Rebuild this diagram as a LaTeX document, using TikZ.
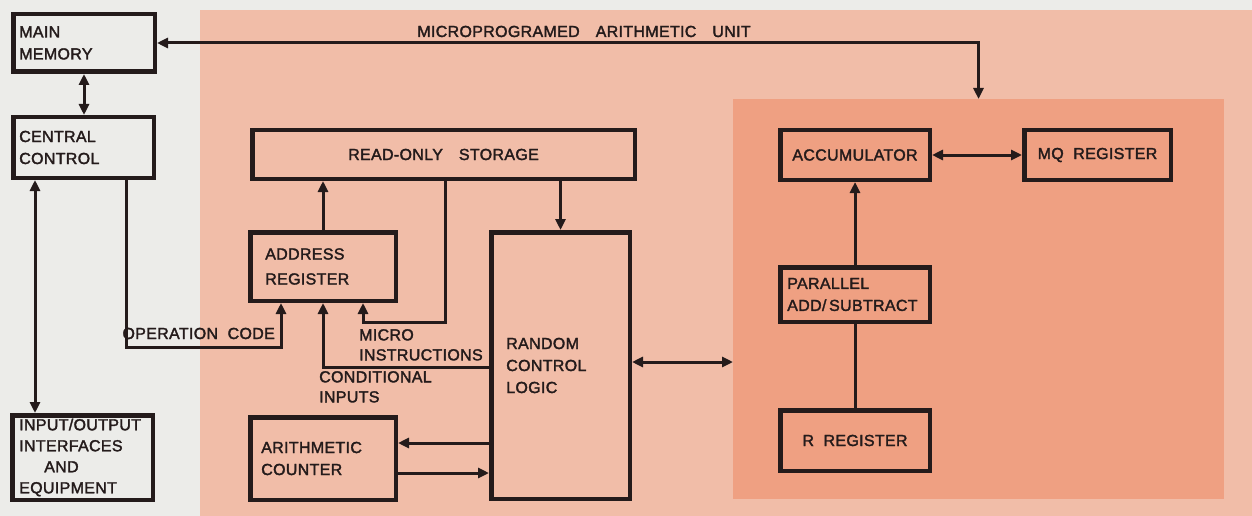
\documentclass[tikz,border=0pt]{standalone}
\usepackage{fontspec}
\setmainfont{Liberation Sans}[LetterSpace=2, FakeBold=2]
\definecolor{paper}{RGB}{236,236,233}
\definecolor{salmon}{RGB}{241,189,168}
\definecolor{deepsalmon}{RGB}{239,160,130}
\definecolor{ink}{RGB}{36,27,27}
\usetikzlibrary{positioning,arrows.meta}

\begin{document}
\begin{tikzpicture}[
    x=1pt, y=-1pt,
    block/.style={rectangle, draw=ink, line width=4.5pt, text=ink, font=\fontsize{16}{22}\selectfont, inner sep=0pt},
    lblock/.style={block, align=left},
    lbl/.style={text=ink, font=\fontsize{16}{20}\selectfont, inner sep=0pt, align=left},
    arrow/.style={-{Triangle[length=11pt,width=10pt]}, line width=3pt, draw=ink},
    biarrow/.style={{Triangle[length=11pt,width=10pt]}-{Triangle[length=11pt,width=10pt]}, line width=3pt, draw=ink},
    link/.style={line width=3pt, draw=ink}
]
\useasboundingbox (0,0) rectangle (1252,516);

% Background
\fill[paper] (0,0) rectangle (1252,516);
\fill[salmon] (200,10) rectangle (1252,516);
\node[fill=deepsalmon, minimum width=491, minimum height=400, inner sep=0pt, outer sep=0pt] (unit) at (978.5,299) {};

% Left column
\node[lblock, minimum width=141.5, minimum height=57.5, inner xsep=6pt, text width=129.5] (mem) at (84,43) {MAIN\\MEMORY};
\node[lblock, minimum width=140.5, minimum height=60.5, inner xsep=6pt, text width=128.5] (cc) at (83.5,147.5) {CENTRAL\\CONTROL};
\node[lblock, minimum width=140.5, minimum height=84.5, inner xsep=7pt, text width=126.5, font=\fontsize{16}{21}\selectfont] (io) at (82.5,457.5) {INPUT/OUTPUT\\INTERFACES\\\hspace*{25pt}AND\\EQUIPMENT};

% Microprogram control
\node[block, minimum width=382.5, minimum height=48.5] (ros) at (443.5,154.5) {READ-ONLY\quad STORAGE};
\node[lblock, minimum width=145.5, minimum height=68.5, inner xsep=15pt, text width=115.5, font=\fontsize{16}{25}\selectfont] (ar) at (323,266.5) {ADDRESS\\REGISTER};
\node[lblock, minimum width=138.5, minimum height=266.5, inner xsep=15pt, text width=108.5] (rcl) at (560.5,365.5) {RANDOM\\CONTROL\\LOGIC};
\node[lblock, minimum width=145.5, minimum height=82.5, inner xsep=11pt, text width=123.5] (ac) at (323,458.5) {ARITHMETIC\\COUNTER};

% Arithmetic unit
\node[block, minimum width=149.5, minimum height=49.5] (acc) at (855,155) {ACCUMULATOR};
\node[block, minimum width=146.5, minimum height=49.5] (mq) at (1097.5,155) {MQ\ \ REGISTER};
\node[lblock, minimum width=149.5, minimum height=54.5, inner xsep=7pt, text width=135.5] (pas) at (855,294.5) {PARALLEL\\ADD/\,SUBTRACT};
\node[block, minimum width=149.5, minimum height=60.5] (rr) at (855,440.5) {R\ \ REGISTER};

% Labels
\node[lbl, anchor=base] (maulabel) at (584,37) {MICROPROGRAMED\quad ARITHMETIC\quad UNIT};
\node[lbl, anchor=base east] (opcode) at (275,339) {OPERATION\ \ CODE};
\node[lbl, anchor=north west] (micro) at (359,329) {MICRO\\INSTRUCTIONS};
\node[lbl, anchor=north west] (cond) at (319,371) {CONDITIONAL\\INPUTS};

% Connections
\draw[biarrow] (mem.east) -| (unit.north);
\draw[biarrow] (mem.south) -- (mem.south |- cc.north);
\draw[biarrow] ([xshift=-48.5pt]cc.south) -- ([xshift=-48.5pt]cc.south |- io.north);
\draw[arrow] ([xshift=42.5pt]cc.south) |- ([xshift=-42pt,yshift=-44pt]ar.south) -- ([xshift=-42pt]ar.south);
\draw[arrow] (ar.north) -- (ar.north |- ros.south);
\draw[arrow] ([xshift=1.5pt]ros.south) |- ([xshift=40pt,yshift=-19pt]ar.south) -- ([xshift=40pt]ar.south);
\draw[arrow] ([yshift=-1.5pt]rcl.west) -| (ar.south);
\draw[arrow] (ros.south -| rcl.north) -- (rcl.north);
\draw[arrow] ([yshift=15.5pt]ac.east -| rcl.west) -- ([yshift=15.5pt]ac.east);
\draw[arrow] ([yshift=-14.5pt]ac.east) -- ([yshift=-14.5pt]ac.east -| rcl.west);
\draw[biarrow] ([yshift=3.5pt]rcl.east) -- ([yshift=3.5pt]rcl.east -| unit.west);
\draw[biarrow] (acc) -- (mq);
\draw[arrow] (pas) -- (acc);
\draw[link] (pas) -- (rr);

\end{tikzpicture}
\end{document}
